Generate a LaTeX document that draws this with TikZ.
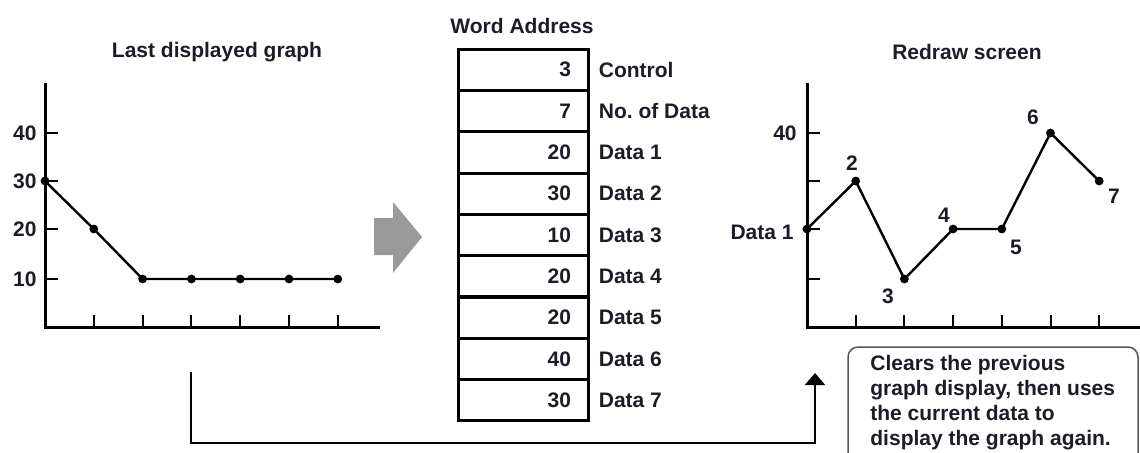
\documentclass[tikz,border=0pt]{standalone}
\usepackage{fontspec}
\setmainfont{Liberation Sans}
\usetikzlibrary{arrows.meta}
\frenchspacing
\definecolor{arrgray}{HTML}{9a9a9a}
\definecolor{boxgray}{HTML}{555555}
\definecolor{inkdark}{HTML}{1c1c26}

\tikzset{
  lbl/.style={font=\fontsize{10.5}{12.5}\selectfont\bfseries, text=inkdark, inner sep=0pt},
  axisline/.style={line width=1.5pt},
  tickline/.style={line width=1pt},
  plotline/.style={line width=1.2pt},
  cellbox/.style={draw, line width=1.5pt, minimum width=65pt, minimum height=20.67pt, inner sep=0pt},
  flow/.style={line width=0.75pt, -{Triangle[width=10pt,length=6pt]}},
}

\begin{document}
\begin{tikzpicture}[x=0.5pt,y=-0.5pt]
  \useasboundingbox (0,0) rectangle (1140,452);
  \clip (0,0) rectangle (1140,452);

  % last displayed graph
  \node[lbl] (ttlL) at (217,52) {Last displayed graph};
  \draw[axisline] (45,83) -- (45,327) -- (380,327);
  \foreach \i in {1,...,6} \draw[tickline] ({45+48.8*\i},327) -- ++(0,-12);
  \foreach \v/\y in {40/133,30/181,20/229,10/279} {
    \draw[tickline] (45,\y) -- (58,\y);
    \node[lbl,anchor=east] (yl\v) at (37,\y) {\v};
  }
  \foreach \n/\y in {1/181,2/229,3/279,4/279,5/279,6/279,7/279}
    \coordinate (p\n) at ({45+48.8*(\n-1)},\y);
  \draw[plotline] (p1) -- (p2) -- (p3) -- (p4) -- (p5) -- (p6) -- (p7);
  \foreach \n in {1,...,7} \fill (p\n) circle[radius=2.2pt];

  % big gray arrow
  \fill[arrgray] (374,218) -- (393,218) -- (393,202) -- (422,237) -- (393,273) -- (393,255) -- (374,255) -- cycle;

  % word table
  \node[lbl] (ttlM) at (522,26) {Word Address};
  \foreach \v/\t [count=\i] in {3/Control,7/No. of Data,20/Data 1,30/Data 2,10/Data 3,20/Data 4,20/Data 5,40/Data 6,30/Data 7} {
    \node[cellbox] (c\i) at (523,{69.67+41.33*(\i-1)}) {};
    \node[lbl,anchor=east] (v\i) at ([xshift=-9pt]c\i.east) {\v};
    \node[lbl,anchor=west] (t\i) at ([xshift=4.5pt]c\i.east) {\t};
  }

  % redraw screen
  \node[lbl] (ttlR) at (967,52) {Redraw screen};
  \draw[axisline] (807,83) -- (807,327) -- (1140,327);
  \foreach \i in {1,...,6} \draw[tickline] ({807+48.7*\i},327) -- ++(0,-12);
  \foreach \y in {133,181,229,279} \draw[tickline] (807,\y) -- (820,\y);
  \node[lbl,anchor=east] (yr40) at (797,133) {40};
  \node[lbl,anchor=east] (yrd1) at (794,232) {Data 1};
  \foreach \n/\y in {1/229,2/181,3/279,4/229,5/229,6/133,7/181}
    \coordinate (q\n) at ({807+48.7*(\n-1)},\y);
  \draw[plotline] (q1) -- (q2) -- (q3) -- (q4) -- (q5) -- (q6) -- (q7);
  \foreach \n in {1,...,7} \fill (q\n) circle[radius=2.2pt];
  \node[lbl] (n2) at (852,163) {2};
  \node[lbl] (n3) at (888,296) {3};
  \node[lbl] (n4) at (944,215) {4};
  \node[lbl] (n5) at (1016,247) {5};
  \node[lbl] (n6) at (1033,117) {6};
  \node[lbl] (n7) at (1114,196) {7};

  % note and return arrow
  \draw[boxgray,line width=0.75pt,rounded corners=5pt] (848,347) rectangle (1138,480);
  \node[lbl,anchor=north west,align=left] (note) at (870,355)
    {Clears the previous\\graph display, then uses\\the current data to\\display the graph again.};
  \coordinate (src) at (191,372);
  \coordinate (bend) at (191,443);
  \coordinate (dst) at (815,373);
  \draw[flow] (src) -- (bend) -| (dst);
\end{tikzpicture}
\end{document}
